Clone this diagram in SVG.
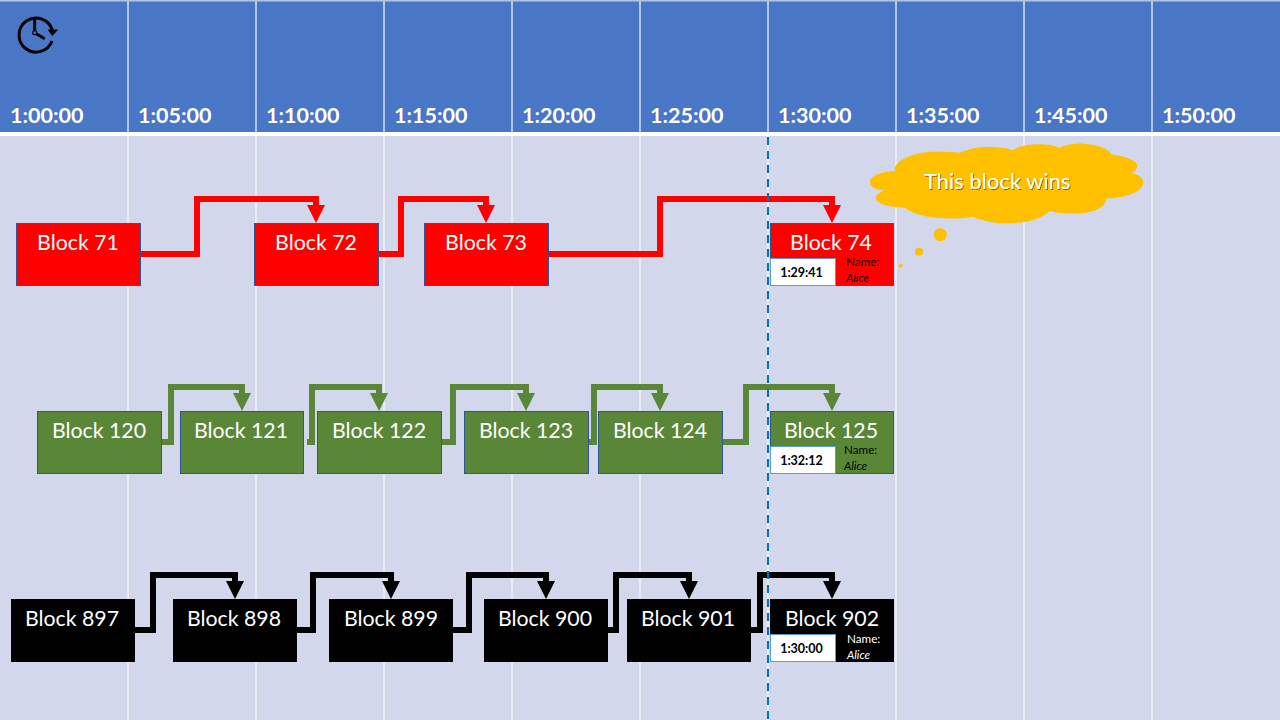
<svg xmlns="http://www.w3.org/2000/svg" width="1280" height="720" viewBox="0 0 1280 720">
<style>
text{font-family:Lato,"Liberation Sans",sans-serif}
.hd{font-size:21.5px;font-weight:700;fill:#fff}
.bl{font-size:21.3px;fill:#fff;text-anchor:middle}
.tm{font-size:12.5px;font-weight:700;fill:#000;text-anchor:middle}
.nm{font-size:11.7px;fill:#000}
.al{font-size:11.5px;font-style:italic;fill:#000}
.w{fill:#fff}
.div{stroke-width:2;fill:none}
.tb{fill:#fff;stroke:#5b9bd5;stroke-width:1}
.r{fill:#f00;stroke:#2f5597;stroke-width:1}
.g{fill:#5a8737;stroke:#2f5597;stroke-width:1}
.k{fill:#000}
.c{fill:none;stroke-width:6;stroke-linejoin:miter}
.cl{fill:#ffc000}
</style>
<defs>
<marker id="ar" markerUnits="userSpaceOnUse" viewBox="0 0 18 18" refX="0" refY="9" markerWidth="18" markerHeight="18" orient="auto"><path d="M0,0L18,9L0,18Z" fill="#f00"/></marker>
<marker id="ag" markerUnits="userSpaceOnUse" viewBox="0 0 18 18" refX="0" refY="9" markerWidth="18" markerHeight="18" orient="auto"><path d="M0,0L18,9L0,18Z" fill="#5a8737"/></marker>
<marker id="ak" markerUnits="userSpaceOnUse" viewBox="0 0 18 18" refX="0" refY="9" markerWidth="18" markerHeight="18" orient="auto"><path d="M0,0L18,9L0,18Z" fill="#000"/></marker>
<filter id="sh" x="-10%" y="-30%" width="120%" height="160%"><feDropShadow dx="1" dy="1" stdDeviation="0.6" flood-color="#000" flood-opacity="0.45"/></filter>
</defs>
<rect width="1280" height="720" fill="#fff"/>
<g id="background">
<rect x="0" y="0" width="1280" height="132" fill="#4a76c6"/>
<rect x="0" y="136" width="1280" height="584" fill="#d3d7eb"/>
<path class="div" stroke="#b4c5e6" d="M0,0.5H1280M128,0V132M256,0V132M384,0V132M512,0V132M640,0V132M768,0V132M896,0V132M1024,0V132M1152,0V132"/>
<path class="div" stroke="#e9ebf5" d="M128,136V720M256,136V720M384,136V720M512,136V720M640,136V720M768,136V720M896,136V720M1024,136V720M1152,136V720"/>
</g>
<g id="clock" fill="none" stroke="#000">
<path d="M52,41A17,17 0 1 1 52.3,30" stroke-width="3"/>
<path d="M34.7,18V30M36.7,34L44.7,38.7" stroke-width="3"/>
<circle cx="34.7" cy="32.7" r="2" stroke-width="1.2"/>
<path d="M47.5,29.5H58.2L52.3,36Z" fill="#000" stroke="none"/>
</g>
<g id="time-labels">
<text class="hd" x="10" y="123">1:00:00</text>
<text class="hd" x="138" y="123">1:05:00</text>
<text class="hd" x="266" y="123">1:10:00</text>
<text class="hd" x="394" y="123">1:15:00</text>
<text class="hd" x="522" y="123">1:20:00</text>
<text class="hd" x="650" y="123">1:25:00</text>
<text class="hd" x="778" y="123">1:30:00</text>
<text class="hd" x="906" y="123">1:35:00</text>
<text class="hd" x="1034" y="123">1:45:00</text>
<text class="hd" x="1162" y="123">1:50:00</text>
</g>
<g id="connectors">
<g class="c" stroke="#f00">
<path marker-end="url(#ar)" d="M141,254H197V199H316V205"/>
<path marker-end="url(#ar)" d="M379,254H401V199H486V205"/>
<path marker-end="url(#ar)" d="M549,254H660V199H832V205"/>
</g>
<g class="c" stroke="#5a8737">
<path marker-end="url(#ag)" d="M162,442H171V387H242V393"/>
<path marker-end="url(#ag)" d="M307,442H312V387H379V393"/>
<path marker-end="url(#ag)" d="M442,442H453V387H526V393"/>
<path marker-end="url(#ag)" d="M589,442H594V387H660V393"/>
<path marker-end="url(#ag)" d="M723,442H746V387H832V393"/>
</g>
<g class="c" stroke="#000">
<path marker-end="url(#ak)" d="M135,630H153V575H235V581"/>
<path marker-end="url(#ak)" d="M297,630H313V575H391V581"/>
<path marker-end="url(#ak)" d="M453,630H469V575H546V581"/>
<path marker-end="url(#ak)" d="M608,630H616V575H689V581"/>
<path marker-end="url(#ak)" d="M751,630H760V575H832V581"/>
</g>
</g>
<path id="now-line" d="M768,137V720" stroke="#0070c0" stroke-width="2" stroke-dasharray="8 6" fill="none"/>
<g id="block-71"><rect class="r" x="16.5" y="223.5" width="124" height="62"/><text class="bl" x="78" y="250">Block 71</text></g>
<g id="block-72"><rect class="r" x="254.5" y="223.5" width="124" height="62"/><text class="bl" x="316" y="250">Block 72</text></g>
<g id="block-73"><rect class="r" x="424.5" y="223.5" width="124" height="62"/><text class="bl" x="486" y="250">Block 73</text></g>
<g id="block-74"><rect class="r" x="770.5" y="223.5" width="123" height="62"/><text class="bl" x="831" y="250">Block 74</text><rect class="tb" x="770.5" y="258.5" width="65" height="27"/><text class="tm" x="801.5" y="277">1:29:41</text><text class="nm" x="846" y="266">Name:</text><text class="al" x="846" y="282">Alice</text></g>
<g id="block-120"><rect class="g" x="37.5" y="411.5" width="124" height="62"/><text class="bl" x="99" y="438">Block 120</text></g>
<g id="block-121"><rect class="g" x="180.5" y="411.5" width="123" height="62"/><text class="bl" x="241" y="438">Block 121</text></g>
<g id="block-122"><rect class="g" x="317.5" y="411.5" width="124" height="62"/><text class="bl" x="379" y="438">Block 122</text></g>
<g id="block-123"><rect class="g" x="464.5" y="411.5" width="124" height="62"/><text class="bl" x="526" y="438">Block 123</text></g>
<g id="block-124"><rect class="g" x="598.5" y="411.5" width="124" height="62"/><text class="bl" x="660" y="438">Block 124</text></g>
<g id="block-125"><rect class="g" x="770.5" y="411.5" width="123" height="62"/><text class="bl" x="831" y="438">Block 125</text><rect class="tb" x="770.5" y="446.5" width="65" height="27"/><text class="tm" x="801.5" y="465">1:32:12</text><text class="nm" x="844" y="454">Name:</text><text class="al" x="844" y="470">Alice</text></g>
<g id="block-897"><rect class="k" x="11" y="599" width="124" height="63"/><text class="bl" x="72" y="626">Block 897</text></g>
<g id="block-898"><rect class="k" x="173" y="599" width="124" height="63"/><text class="bl" x="234" y="626">Block 898</text></g>
<g id="block-899"><rect class="k" x="329" y="599" width="124" height="63"/><text class="bl" x="391" y="626">Block 899</text></g>
<g id="block-900"><rect class="k" x="484" y="599" width="124" height="63"/><text class="bl" x="545" y="626">Block 900</text></g>
<g id="block-901"><rect class="k" x="627" y="599" width="124" height="63"/><text class="bl" x="688" y="626">Block 901</text></g>
<g id="block-902"><rect class="k" x="770" y="599" width="124" height="63"/><text class="bl" x="832" y="626">Block 902</text><rect class="tb" x="770.5" y="634.5" width="65" height="27"/><text class="tm" x="801.5" y="653">1:30:00</text><text class="nm w" x="847" y="643">Name:</text><text class="al w" x="847" y="659">Alice</text></g>
<g id="callout" class="cl">
<path transform="translate(860,135) scale(0.33333)" d="M75,166C40,165 30,150 30,140C30,122 70,108 105,108C95,85 150,50 225,50C255,50 280,50 300,53C325,40 365,35 390,36C420,36 440,40 458,45C480,32 510,28 535,28C560,28 585,32 597,38C620,28 650,25 670,26C715,28 745,42 755,58C800,65 832,78 832,92C832,100 825,108 815,113C838,120 850,130 850,142C850,170 800,188 738,191C742,215 700,236 640,236C610,236 585,233 570,228C540,255 490,265 440,265C400,265 365,257 340,245C310,250 280,251 250,250C200,248 155,235 135,218C85,218 48,205 48,190C48,180 58,172 75,166Z"/>
<circle cx="940.3" cy="234.7" r="6.5"/>
<circle cx="919" cy="251.7" r="4"/>
<circle cx="900.7" cy="265.7" r="2"/>
<text x="997" y="189" text-anchor="middle" font-size="22" fill="#fff" filter="url(#sh)">This block wins</text>
</g>
</svg>
